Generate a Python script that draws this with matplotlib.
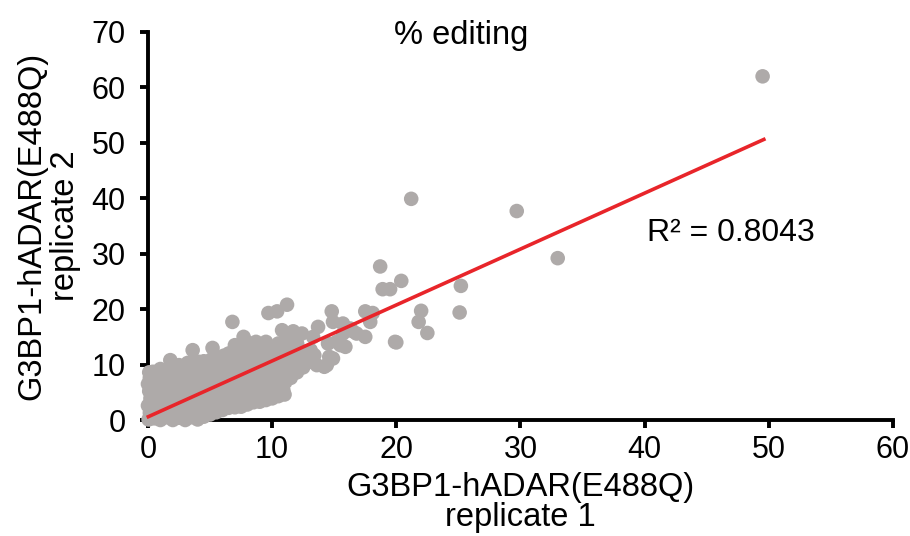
import numpy as np
import matplotlib
matplotlib.use("Agg")
import matplotlib.pyplot as plt

plt.rcParams['font.family'] = ['Liberation Sans', 'DejaVu Sans']

# % editing, replicate 1 (x) vs replicate 2 (y)
core_points = [
    (0.05, 0.1), (0.15, 1.3), (0.0, 2.6), (0.2, 3.9), (0.1, 5.2), (0.0, 6.5), (0.15, 7.6), (0.1, 8.6),
    (0.5, 0.3), (0.6, 1.8), (0.45, 3.2), (0.55, 4.6), (0.4, 6.0), (0.6, 7.3), (0.4, 8.7),
    (1.0, 0.0), (0.9, 1.1), (1.1, 2.4), (0.95, 3.8), (1.05, 5.1), (0.9, 6.5), (1.1, 7.8), (1.0, 9.2),
    (1.5, 0.5), (1.4, 1.9), (1.6, 3.3), (1.45, 4.7), (1.55, 6.1), (1.4, 7.4), (1.6, 8.7), (1.8, 10.8),
    (2.0, 0.0), (2.1, 1.3), (1.95, 2.7), (2.05, 4.1), (2.0, 5.5), (2.1, 6.9), (1.9, 8.2), (2.1, 9.6),
    (2.5, 0.4), (2.45, 1.8), (2.6, 3.2), (2.5, 4.6), (2.55, 6.0), (2.4, 7.4), (2.6, 8.8), (2.5, 9.9),
    (3.0, 0.0), (3.1, 1.2), (2.95, 2.6), (3.05, 4.0), (3.0, 5.4), (3.1, 6.8), (2.95, 8.2), (3.05, 9.6), (3.2, 10.3),
    (3.5, 0.5), (3.45, 1.9), (3.55, 3.3), (3.5, 4.7), (3.6, 6.1), (3.45, 7.5), (3.55, 8.9), (3.5, 10.2), (3.6, 12.6),
    (4.0, 0.1), (4.1, 1.3), (3.95, 2.7), (4.05, 4.1), (4.0, 5.5), (4.1, 6.9), (3.95, 8.3), (4.05, 9.6), (4.1, 10.5),
    (4.5, 0.6), (4.55, 2.0), (4.45, 3.4), (4.6, 4.8), (4.5, 6.2), (4.4, 7.6), (4.55, 9.0), (4.5, 10.6),
    (5.0, 1.0), (5.1, 2.4), (4.95, 3.8), (5.05, 5.2), (5.0, 6.6), (5.1, 8.0), (4.95, 9.4), (5.1, 10.9), (5.2, 13.0),
    (5.5, 1.4), (5.45, 2.8), (5.6, 4.2), (5.5, 5.6), (5.55, 7.0), (5.45, 8.4), (5.6, 9.8), (5.5, 11.3),
    (6.0, 1.8), (6.05, 3.2), (5.95, 4.6), (6.1, 6.0), (6.0, 7.4), (6.05, 8.8), (5.95, 10.2), (6.1, 11.6),
    (6.5, 2.2), (6.45, 3.6), (6.55, 5.0), (6.5, 6.4), (6.6, 7.8), (6.45, 9.2), (6.55, 10.6), (6.5, 12.0),
    (7.0, 2.3), (7.05, 3.7), (6.95, 5.1), (7.1, 6.5), (7.0, 7.9), (7.05, 9.3), (6.95, 10.7), (7.1, 12.1), (7.0, 13.5),
    (7.5, 2.4), (7.45, 3.8), (7.55, 5.2), (7.5, 6.6), (7.6, 8.0), (7.45, 9.4), (7.55, 10.8), (7.5, 12.2), (7.6, 13.6), (7.7, 15.0),
    (8.0, 2.8), (8.05, 4.2), (7.95, 5.6), (8.1, 7.0), (8.0, 8.4), (8.05, 9.8), (7.95, 11.2), (8.1, 12.6), (8.0, 14.0),
    (8.5, 3.2), (8.45, 4.6), (8.55, 6.0), (8.5, 7.4), (8.6, 8.8), (8.45, 10.2), (8.55, 11.6), (8.5, 13.0), (8.7, 14.1),
    (9.0, 3.3), (9.05, 4.7), (8.95, 6.1), (9.1, 7.5), (9.0, 8.9), (9.05, 10.3), (8.95, 11.7), (9.1, 13.1),
    (9.5, 3.6), (9.45, 5.0), (9.55, 6.4), (9.5, 7.8), (9.6, 9.2), (9.45, 10.6), (9.55, 12.0), (9.5, 13.4), (9.5, 14.1),
    (10.0, 3.9), (10.05, 5.3), (9.95, 6.7), (10.1, 8.1), (10.0, 9.5), (10.05, 10.9), (9.95, 12.3), (9.9, 12.9),
    (10.5, 4.3), (10.6, 5.4), (10.45, 7.0), (10.55, 8.4), (10.5, 9.8), (10.6, 11.2), (10.45, 12.6), (10.5, 13.8),
    (11.0, 4.6), (10.9, 5.4), (11.05, 6.8), (10.95, 8.2), (11.1, 9.6), (11.0, 11.0), (11.05, 12.4), (10.95, 13.4), (11.1, 14.6),
    (11.5, 7.6), (11.45, 9.0), (11.55, 10.4), (11.5, 11.6), (11.6, 13.0), (11.45, 14.4),
    (12.0, 8.6), (12.05, 10.0), (11.95, 11.4), (12.1, 12.8), (12.0, 13.8),
    (12.5, 9.5), (12.6, 11.0), (12.45, 12.4), (12.9, 11.1), (13.0, 10.5), (13.4, 11.7), (13.1, 12.6), (13.6, 9.9),
]

mid_points = [
    (6.8, 17.7), (9.7, 19.3), (10.4, 19.6), (11.2, 20.8), (10.8, 16.2), (11.7, 16.0), (12.4, 15.6),
    (13.7, 16.8), (13.3, 15.0), (14.8, 19.6), (14.9, 17.7), (15.7, 17.4), (16.3, 16.5), (16.5, 16.0),
    (17.5, 19.6), (18.1, 19.3), (17.9, 17.7), (17.5, 15.0), (15.7, 15.6), (15.2, 14.1), (14.5, 13.8),
    (15.9, 13.2), (14.4, 9.9), (14.2, 9.6), (14.6, 11.4), (14.9, 11.1), (15.5, 13.5), (16.8, 15.6),
    (16.0, 16.2), (10.9, 13.2), (12.0, 13.8), (11.6, 11.4), (11.4, 9.0), (10.1, 6.6), (7.7, 4.2),
    (19.9, 14.1),
]

outlier_points = [
    (18.7, 27.7), (18.9, 23.6), (19.5, 23.6), (20.4, 25.1), (21.2, 39.9), (22.0, 19.7), (21.8, 17.7),
    (22.5, 15.7), (20.0, 14.0), (25.2, 24.2), (25.1, 19.4), (29.7, 37.7), (33.0, 29.2), (49.5, 62.0),
]

# Excel linear trendline
fit_slope = 1.009
fit_intercept = 0.57
fit_x_range = [0.03, 49.6]
r_squared = "R² = 0.8043"

x_ticks = [0, 10, 20, 30, 40, 50, 60]
y_ticks = [0, 10, 20, 30, 40, 50, 60, 70]

all_points = core_points + mid_points + outlier_points
rep1 = np.array([p[0] for p in all_points])
rep2 = np.array([p[1] for p in all_points])

fig = plt.figure(figsize=(9.1, 5.36), dpi=100)
ax = fig.add_axes([0.1626, 0.2164, 0.8187, 0.7239])

ax.scatter(rep1, rep2, s=110, color='#AEAAA9', edgecolors='none', zorder=3, clip_on=False)

fx = np.array(fit_x_range)
ax.plot(fx, fit_slope * fx + fit_intercept, color='#E8252A', lw=2.6, zorder=4, clip_on=False)

ax.set_xlim(0, 60)
ax.set_ylim(0, 70)
ax.set_xticks(x_ticks)
ax.set_yticks(y_ticks)

for side in ['top', 'right']:
    ax.spines[side].set_visible(False)
for side in ['left', 'bottom']:
    ax.spines[side].set_linewidth(2.8)
    ax.spines[side].set_zorder(2)

ax.tick_params(axis='both', direction='out', length=6, width=2.8, labelsize=22)
ax.tick_params(axis='y', pad=10)
ax.tick_params(axis='x', pad=5)

ax.set_xlabel('G3BP1-hADAR(E488Q)\nreplicate 1', fontsize=23.5, labelpad=5, linespacing=0.95)
ax.set_ylabel('G3BP1-hADAR(E488Q)\nreplicate 2', fontsize=23.5, labelpad=8, linespacing=1.1)

ax.text(0.42, 0.99, '% editing', transform=ax.transAxes, ha='center', va='center', fontsize=23.5)
ax.text(40.2, 33.8, r_squared, ha='left', va='center', fontsize=23)

fig.savefig('out.png', dpi=100)
